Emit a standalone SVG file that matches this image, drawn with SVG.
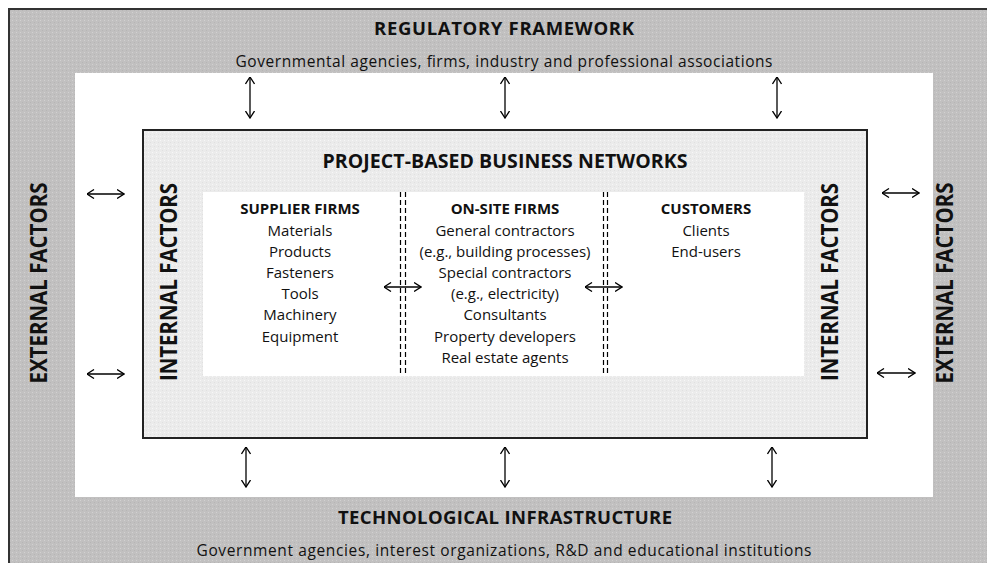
<svg xmlns="http://www.w3.org/2000/svg" width="987" height="563" viewBox="0 0 987 563">
  <defs>
    <pattern id="dotsDark" width="4" height="4" patternUnits="userSpaceOnUse">
      <rect width="4" height="4" fill="#c1c0c0"/>
      <rect x="0" y="0" width="1" height="1" fill="#d2d1d1"/>
      <rect x="2" y="2" width="1" height="1" fill="#b6b5b5"/>
    </pattern>
    <pattern id="dotsLight" width="4" height="4" patternUnits="userSpaceOnUse">
      <rect width="4" height="4" fill="#ebebeb"/>
      <rect x="0" y="0" width="1" height="1" fill="#f7f7f7"/>
      <rect x="2" y="2" width="1" height="1" fill="#e0e0e0"/>
    </pattern>
    <marker id="arr" viewBox="0 0 8 10" refX="7.5" refY="5" markerWidth="8" markerHeight="10" markerUnits="userSpaceOnUse" orient="auto-start-reverse">
      <path d="M0.5,0.5 L7.5,5 L0.5,9.5" fill="none" stroke="#000" stroke-width="1.3"/>
    </marker>
  </defs>
  <style>
    text { font-family: "Open Sans", "Noto Sans", "Liberation Sans", sans-serif; fill: #111; }
    .title { font-weight: bold; font-size: 18.5px; text-anchor: middle; }
    .sub { font-size: 15.5px; text-anchor: middle; }
    .head { font-weight: bold; font-size: 15px; text-anchor: middle; }
    .body { font-size: 15px; text-anchor: middle; }
    .side { font-weight: bold; font-size: 23px; text-anchor: middle; }
    .arrow { stroke: #000; stroke-width: 1.3; fill: none; marker-start: url(#arr); marker-end: url(#arr); }
    .dash { stroke: #000; stroke-width: 1.2; stroke-dasharray: 5 3; fill: none; }
  </style>

  <rect width="987" height="563" fill="#ffffff"/>

  <g id="environment">
    <rect x="9" y="9" width="990" height="570" fill="url(#dotsDark)" stroke="#333" stroke-width="2"/>
    <rect x="75" y="73" width="858" height="424" fill="#ffffff"/>
  </g>

  <g id="regulatory-framework">
    <text class="title" x="504" y="35" textLength="260">REGULATORY FRAMEWORK</text>
    <text class="sub" x="504" y="67" textLength="537">Governmental agencies, firms, industry and professional associations</text>
  </g>

  <g id="technological-infrastructure">
    <text class="title" x="505" y="524" textLength="334">TECHNOLOGICAL INFRASTRUCTURE</text>
    <text class="sub" x="504" y="556" textLength="615">Government agencies, interest organizations, R&amp;D and educational institutions</text>
  </g>

  <g id="external-factors-left">
    <text class="side" transform="translate(47,283) rotate(-90)" textLength="201" lengthAdjust="spacingAndGlyphs">EXTERNAL FACTORS</text>
  </g>
  <g id="external-factors-right">
    <text class="side" transform="translate(953,283) rotate(-90)" textLength="201" lengthAdjust="spacingAndGlyphs">EXTERNAL FACTORS</text>
  </g>

  <g id="project-based-business-networks">
    <rect x="143" y="130" width="724" height="308" fill="url(#dotsLight)" stroke="#222" stroke-width="2"/>
    <text class="title" x="505" y="168" textLength="365" style="font-size:19.5px">PROJECT-BASED BUSINESS NETWORKS</text>
    <rect x="203" y="192" width="601" height="184" fill="#ffffff"/>
  </g>

  <g id="internal-factors-left">
    <text class="side" transform="translate(177,282) rotate(-90)" textLength="198" lengthAdjust="spacingAndGlyphs">INTERNAL FACTORS</text>
  </g>
  <g id="internal-factors-right">
    <text class="side" transform="translate(838,282) rotate(-90)" textLength="198" lengthAdjust="spacingAndGlyphs">INTERNAL FACTORS</text>
  </g>

  <g id="supplier-firms">
    <text class="head" x="300" y="214">SUPPLIER FIRMS</text>
    <text class="body" x="300" y="236">Materials</text>
    <text class="body" x="300" y="257">Products</text>
    <text class="body" x="300" y="278">Fasteners</text>
    <text class="body" x="300" y="299">Tools</text>
    <text class="body" x="300" y="320">Machinery</text>
    <text class="body" x="300" y="342">Equipment</text>
  </g>

  <g id="on-site-firms">
    <text class="head" x="505" y="214">ON-SITE FIRMS</text>
    <text class="body" x="505" y="236">General contractors</text>
    <text class="body" x="505" y="257">(e.g., building processes)</text>
    <text class="body" x="505" y="278">Special contractors</text>
    <text class="body" x="505" y="299">(e.g., electricity)</text>
    <text class="body" x="505" y="320">Consultants</text>
    <text class="body" x="505" y="342">Property developers</text>
    <text class="body" x="505" y="363">Real estate agents</text>
  </g>

  <g id="customers">
    <text class="head" x="706" y="214">CUSTOMERS</text>
    <text class="body" x="706" y="236">Clients</text>
    <text class="body" x="706" y="257">End-users</text>
  </g>

  <g id="connectors">
    <line class="dash" x1="400.5" y1="192" x2="400.5" y2="376"/>
    <line class="dash" x1="405.5" y1="192" x2="405.5" y2="376"/>
    <line class="dash" x1="603.5" y1="192" x2="603.5" y2="376"/>
    <line class="dash" x1="607.5" y1="192" x2="607.5" y2="376"/>

    <line class="arrow" x1="384" y1="287" x2="421" y2="287"/>
    <line class="arrow" x1="585" y1="287" x2="622" y2="287"/>

    <line class="arrow" x1="87" y1="194" x2="124" y2="194"/>
    <line class="arrow" x1="87" y1="374" x2="124" y2="374"/>
    <line class="arrow" x1="882" y1="193" x2="919" y2="193"/>
    <line class="arrow" x1="877" y1="373" x2="915" y2="373"/>

    <line class="arrow" x1="250" y1="77" x2="250" y2="118"/>
    <line class="arrow" x1="505" y1="77" x2="505" y2="118"/>
    <line class="arrow" x1="777" y1="77" x2="777" y2="118"/>

    <line class="arrow" x1="246" y1="447" x2="246" y2="487"/>
    <line class="arrow" x1="505" y1="447" x2="505" y2="487"/>
    <line class="arrow" x1="772" y1="447" x2="772" y2="487"/>
  </g>
</svg>
